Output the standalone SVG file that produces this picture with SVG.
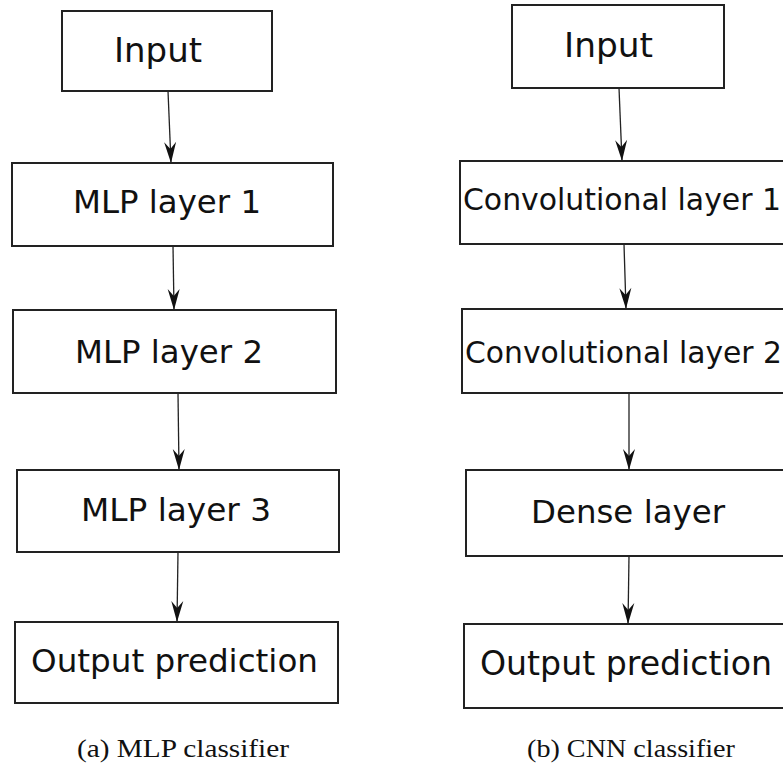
<svg xmlns="http://www.w3.org/2000/svg" width="783" height="769" viewBox="0 0 783 769">
  <style>
    .box { fill: #ffffff; stroke: #222222; stroke-width: 2; }
    .lbl { font-family: "DejaVu Sans", Verdana, sans-serif; fill: #111111; }
    .cap { font-family: "Liberation Serif", "Times New Roman", serif; font-size: 25px; fill: #111111; }
    .edge { fill: none; stroke: #222222; stroke-width: 1.3; marker-end: url(#head); }
  </style>
  <defs>
    <marker id="head" markerUnits="userSpaceOnUse" viewBox="-22 -7 23 14" markerWidth="23" markerHeight="14" refX="0" refY="0" orient="auto">
      <path d="M0,0 L-21,-6 L-14,0 L-21,6 Z" fill="#111111"/>
    </marker>
  </defs>
  <rect width="783" height="769" fill="#ffffff"/>

  <!-- connectors -->
  <g id="connectors">
    <path class="edge" d="M168,91 L171,163"/>
    <path class="edge" d="M173,246 L174,310"/>
    <path class="edge" d="M178,393 L179,470"/>
    <path class="edge" d="M178,552 L177,622"/>
    <path class="edge" d="M619,88 L622,161"/>
    <path class="edge" d="M624,244 L626,309"/>
    <path class="edge" d="M629,393 L629,470"/>
    <path class="edge" d="M629,556 L628,624"/>
  </g>

  <!-- (a) MLP classifier -->
  <g id="mlp-input">
    <rect class="box" x="62" y="11" width="210" height="80"/>
    <text class="lbl" x="114" y="62" font-size="34" textLength="88" lengthAdjust="spacingAndGlyphs">Input</text>
  </g>
  <g id="mlp-layer1">
    <rect class="box" x="12" y="163" width="321" height="83"/>
    <text class="lbl" x="73" y="213" font-size="32.4" textLength="188" lengthAdjust="spacingAndGlyphs">MLP layer 1</text>
  </g>
  <g id="mlp-layer2">
    <rect class="box" x="13" y="310" width="323" height="83"/>
    <text class="lbl" x="75" y="363" font-size="32.4" textLength="188" lengthAdjust="spacingAndGlyphs">MLP layer 2</text>
  </g>
  <g id="mlp-layer3">
    <rect class="box" x="17" y="470" width="322" height="82"/>
    <text class="lbl" x="81" y="521" font-size="32.4" textLength="190" lengthAdjust="spacingAndGlyphs">MLP layer 3</text>
  </g>
  <g id="mlp-output">
    <rect class="box" x="15" y="622" width="323" height="81"/>
    <text class="lbl" x="31" y="672" font-size="32.5" textLength="287" lengthAdjust="spacingAndGlyphs">Output prediction</text>
  </g>
  <text id="caption-a" class="cap" x="77" y="757" textLength="212" lengthAdjust="spacingAndGlyphs">(a) MLP classifier</text>

  <!-- (b) CNN classifier -->
  <g id="cnn-input">
    <rect class="box" x="512" y="5" width="212" height="83"/>
    <text class="lbl" x="564" y="57" font-size="34" textLength="89" lengthAdjust="spacingAndGlyphs">Input</text>
  </g>
  <g id="cnn-conv1">
    <rect class="box" x="460" y="161" width="340" height="83"/>
    <text class="lbl" x="463" y="210" font-size="30" textLength="318" lengthAdjust="spacingAndGlyphs">Convolutional layer 1</text>
  </g>
  <g id="cnn-conv2">
    <rect class="box" x="462" y="309" width="340" height="84"/>
    <text class="lbl" x="465" y="363" font-size="30" textLength="317" lengthAdjust="spacingAndGlyphs">Convolutional layer 2</text>
  </g>
  <g id="cnn-dense">
    <rect class="box" x="466" y="470" width="340" height="86"/>
    <text class="lbl" x="531" y="523" font-size="32.4" textLength="194" lengthAdjust="spacingAndGlyphs">Dense layer</text>
  </g>
  <g id="cnn-output">
    <rect class="box" x="464" y="624" width="340" height="84"/>
    <text class="lbl" x="480" y="675" font-size="33" textLength="292" lengthAdjust="spacingAndGlyphs">Output prediction</text>
  </g>
  <text id="caption-b" class="cap" x="527" y="757" textLength="208" lengthAdjust="spacingAndGlyphs">(b) CNN classifier</text>
</svg>
